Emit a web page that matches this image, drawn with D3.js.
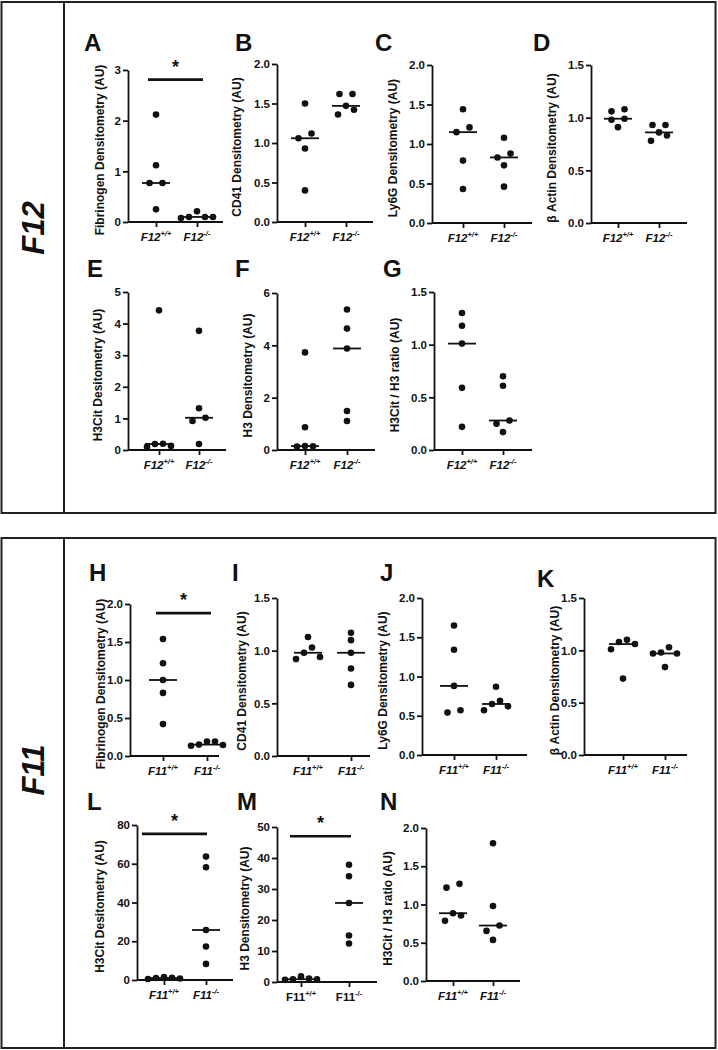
<!DOCTYPE html>
<html>
<head>
<meta charset="utf-8">
<script src="https://cdn.jsdelivr.net/npm/d3@7"></script>
<style>
  body { margin: 0; background: #fff; }
  svg { font-family: "Liberation Sans", Arial, sans-serif; }
</style>
</head>
<body>
<svg id="chart" width="718" height="1050"></svg>
<script>
// categories
const groupsF12 = ["F12+/+", "F12-/-"];
const groupsF11 = ["F11+/+", "F11-/-"];

// values per group
const fibrinogenF12 = [[2.12, 1.12, 0.77, 0.77, 0.25], [0.21, 0.10, 0.10, 0.10, 0.08]];
const cd41F12 = [[1.50, 1.12, 1.06, 0.93, 0.40], [1.62, 1.62, 1.47, 1.42, 1.36]];
const ly6gF12 = [[1.44, 1.21, 1.15, 0.79, 0.43], [1.08, 0.88, 0.83, 0.73, 0.46]];
const actinF12 = [[1.08, 1.06, 0.99, 0.98, 0.91], [0.93, 0.93, 0.86, 0.83, 0.78]];
const h3citF12 = [[4.42, 0.20, 0.19, 0.13, 0.10], [3.77, 1.32, 1.02, 0.92, 0.19]];
const h3F12 = [[3.73, 0.87, 0.15, 0.14, 0.13], [5.37, 4.64, 3.88, 1.49, 1.11]];
const ratioF12 = [[1.30, 1.18, 1.01, 0.59, 0.22], [0.70, 0.61, 0.28, 0.25, 0.17]];

const fibrinogenF11 = [[1.54, 1.22, 1.00, 0.83, 0.42], [0.19, 0.19, 0.15, 0.145, 0.135]];
const cd41F11 = [[1.13, 1.03, 0.98, 0.94, 0.92], [1.17, 1.10, 0.98, 0.83, 0.675]];
const ly6gF11 = [[1.65, 1.34, 0.88, 0.57, 0.54], [0.87, 0.69, 0.65, 0.62, 0.57]];
const actinF11 = [[1.10, 1.08, 1.06, 1.01, 0.73], [1.03, 0.98, 0.97, 0.97, 0.84]];
const h3citF11 = [[1.5, 1.2, 1.0, 0.8, 0.5], [63.7, 58.2, 25.8, 17.3, 8.3]];
const h3F11 = [[1.8, 1.1, 0.9, 0.9, 0.7], [37.8, 34.1, 25.5, 15.0, 12.4]];
const ratioF11 = [[1.27, 1.22, 0.886, 0.856, 0.786], [1.80, 0.98, 0.725, 0.655, 0.537]];

// y tick labels
const ticks3 = [0, 1, 2, 3];
const ticks5 = [0, 1, 2, 3, 4, 5];
const ticks6 = [0, 2, 4, 6];
const ticks15 = [0, 0.5, 1.0, 1.5];
const ticks20 = [0, 0.5, 1.0, 1.5, 2.0];
const ticks80 = [0, 20, 40, 60, 80];
const ticks50 = [0, 10, 20, 30, 40, 50];

// significance bar heights
const sigA = 2.81, sigH = 1.88, sigL = 75.4, sigM = 47;

const panels = [
  { id: "A", groups: groupsF12, vals: fibrinogenF12, ticks: ticks3, title: "Fibrinogen Densitometry (AU)", sig: sigA,
    ax: 128, top: 70, bot: 222, w: 95, t1: 28, t2: 69, tdx: 28, lx: 84, ly: 51, s1: -8, s2: 6 },
  { id: "B", groups: groupsF12, vals: cd41F12, ticks: ticks20, title: "CD41 Densitometry (AU)",
    ax: 277, top: 64, bot: 222, w: 96, t1: 28, t2: 69, tdx: 40, lx: 235, ly: 51 },
  { id: "C", groups: groupsF12, vals: ly6gF12, ticks: ticks20, title: "Ly6G Densitometry (AU)",
    ax: 432, top: 65, bot: 223, w: 100, t1: 31, t2: 72, tdx: 39, lx: 375, ly: 51 },
  { id: "D", groups: groupsF12, vals: actinF12, ticks: ticks15, title: "β Actin Densitometry (AU)",
    ax: 591, top: 65, bot: 223, w: 96, t1: 27, t2: 68, tdx: 39, lx: 533, ly: 51 },
  { id: "E", groups: groupsF12, vals: h3citF12, ticks: ticks5, title: "H3Cit Desitometry (AU)",
    ax: 128, top: 292, bot: 450, w: 98, t1: 31, t2: 71, tdx: 30, lx: 87, ly: 277 },
  { id: "F", groups: groupsF12, vals: h3F12, ticks: ticks6, title: "H3 Densitometry (AU)",
    ax: 277, top: 293, bot: 450, w: 98, t1: 28, t2: 70, tdx: 29, lx: 235, ly: 277 },
  { id: "G", groups: groupsF12, vals: ratioF12, ticks: ticks15, title: "H3Cit / H3 ratio (AU)",
    ax: 434, top: 292, bot: 450, w: 98, t1: 28, t2: 69, tdx: 39, lx: 383, ly: 277 },
  { id: "H", groups: groupsF11, vals: fibrinogenF11, ticks: ticks20, title: "Fibrinogen Densitometry (AU)", sig: sigH,
    ax: 130, top: 604, bot: 756, w: 89, t1: 33, t2: 77, tdx: 29, lx: 89, ly: 581, s1: -7, s2: 4 },
  { id: "I", groups: groupsF11, vals: cd41F11, ticks: ticks15, title: "CD41 Densitometry (AU)",
    ax: 277, top: 598, bot: 756, w: 93, t1: 31, t2: 74, tdx: 35, lx: 232, ly: 581 },
  { id: "J", groups: groupsF11, vals: ly6gF11, ticks: ticks20, title: "Ly6G Densitometry (AU)",
    ax: 422, top: 598, bot: 755, w: 105, t1: 32, t2: 74, tdx: 39, lx: 380, ly: 581 },
  { id: "K", groups: groupsF11, vals: actinF11, ticks: ticks15, title: "β Actin Densitometry (AU)",
    ax: 584, top: 598, bot: 755, w: 103, t1: 39, t2: 81, tdx: 29, lx: 537, ly: 587 },
  { id: "L", groups: groupsF11, vals: h3citF11, ticks: ticks80, title: "H3Cit Desitometry (AU)", sig: sigL,
    ax: 137, top: 825, bot: 980, w: 96, t1: 27, t2: 69, tdx: 37, lx: 87, ly: 810, s1: -22, s2: 1 },
  { id: "M", groups: groupsF11, vals: h3F11, ticks: ticks50, title: "H3 Densitometry (AU)", sig: sigM, plain: true,
    ax: 277, top: 827, bot: 982, w: 100, t1: 24, t2: 72, tdx: 32, lx: 237, ly: 810, s1: -11, s2: 2 },
  { id: "N", groups: groupsF11, vals: ratioF11, ticks: ticks20, title: "H3Cit / H3 ratio (AU)",
    ax: 426, top: 828, bot: 981, w: 94, t1: 27, t2: 67, tdx: 38, lx: 380, ly: 810 }
];

const svg = d3.select("#chart");
const ink = "#111";

// frames
[[2, 511], [538, 510]].forEach(([y0, h]) => {
  svg.append("rect").attr("x", 1.5).attr("y", y0).attr("width", 714).attr("height", h)
    .attr("fill", "none").attr("stroke", "#222").attr("stroke-width", 2);
  svg.append("line").attr("x1", 64).attr("x2", 64).attr("y1", y0).attr("y2", y0 + h)
    .attr("stroke", "#222").attr("stroke-width", 2);
});

// side labels
[["F12", 228], ["F11", 770]].forEach(([t, cy]) => {
  svg.append("text").attr("transform", `translate(44,${cy}) rotate(-90)`)
    .attr("text-anchor", "middle").attr("font-size", 31).attr("font-weight", "bold")
    .attr("font-style", "italic").attr("fill", ink).text(t);
});

// spread overlapping dots in rows, like the scatter plot did
function spread(vals, y) {
  const order = vals.map((v, i) => ({ v, i })).sort((a, b) => b.v - a.v);
  const off = new Array(vals.length).fill(0);
  const clusters = [];
  let cur = [order[0]];
  for (let k = 1; k < order.length; k++) {
    if (y(order[k].v) - y(order[k - 1].v) < 7) cur.push(order[k]);
    else { clusters.push(cur); cur = [order[k]]; }
  }
  clusters.push(cur);
  clusters.forEach(c => {
    const n = c.length;
    const s = n === 2 ? 13 : 8;
    c.forEach((d, j) => {
      let pos;
      if (n % 2) pos = j === 0 ? 0 : Math.ceil(j / 2) * (j % 2 ? 1 : -1);
      else pos = (Math.floor(j / 2) + 0.5) * (j % 2 ? -1 : 1);
      off[d.i] = pos * s;
    });
  });
  return off;
}

panels.forEach(p => {
  const g = svg.append("g");
  const y = d3.scaleLinear().domain([0, d3.max(p.ticks)]).range([p.bot, p.top]);
  const x = d3.scalePoint().domain(p.groups).range([p.ax + p.t1, p.ax + p.t2]);
  const intTicks = p.ticks.every(t => Number.isInteger(t)) && d3.max(p.ticks) > 2;
  const fmt = intTicks ? d3.format("d") : d3.format(".1f");

  // panel letter
  g.append("text").attr("x", p.lx).attr("y", p.ly).attr("font-size", 24)
    .attr("font-weight", "bold").attr("fill", ink).text(p.id);

  // y axis
  const ya = g.append("g").attr("transform", `translate(${p.ax},0)`)
    .call(d3.axisLeft(y).tickValues(p.ticks).tickFormat(fmt).tickSize(5).tickSizeOuter(0).tickPadding(2));
  ya.select(".domain").attr("stroke", ink).attr("stroke-width", 1.8);
  ya.selectAll(".tick line").attr("stroke", ink).attr("stroke-width", 1.8);
  ya.selectAll(".tick text").attr("font-size", 11.5).attr("font-weight", "bold")
    .attr("font-family", "Liberation Sans, Arial, sans-serif").attr("fill", ink);

  // x axis
  g.append("line").attr("x1", p.ax).attr("x2", p.ax + p.w).attr("y1", p.bot).attr("y2", p.bot)
    .attr("stroke", ink).attr("stroke-width", 1.8);
  const xa = g.append("g").attr("transform", `translate(0,${p.bot})`)
    .call(d3.axisBottom(x).tickSize(5).tickFormat(""));
  xa.select(".domain").remove();
  xa.selectAll(".tick line").attr("stroke", ink).attr("stroke-width", 1.8);

  const lab = g.selectAll("text.cat").data(p.groups).join("text").attr("class", "cat")
    .attr("x", d => x(d)).attr("y", p.bot + 19).attr("text-anchor", "middle")
    .attr("font-size", 11.5).attr("font-weight", "bold").attr("fill", ink)
    .attr("font-style", p.plain ? "normal" : "italic");
  lab.append("tspan").text(d => d.slice(0, 3));
  lab.append("tspan").attr("font-size", 7.5).attr("dy", -5).text(d => d.slice(3));

  // axis title
  g.append("text")
    .attr("transform", `translate(${p.ax - p.tdx},${(p.top + p.bot) / 2 + 4}) rotate(-90)`)
    .attr("text-anchor", "middle").attr("dominant-baseline", "central")
    .attr("font-size", 12).attr("font-weight", "bold").attr("fill", ink).text(p.title);

  // dots and medians
  p.groups.forEach((grp, gi) => {
    const vals = p.vals[gi];
    const off = spread(vals, y);
    const cx = x(grp);
    const med = d3.median(vals);
    g.append("line").attr("x1", cx - 14).attr("x2", cx + 14).attr("y1", y(med)).attr("y2", y(med))
      .attr("stroke", ink).attr("stroke-width", 1.8);
    g.selectAll(null).data(vals).join("circle")
      .attr("cx", (d, i) => cx + off[i]).attr("cy", d => y(d)).attr("r", 3.3).attr("fill", ink);
  });

  // significance bar
  if (p.sig !== undefined) {
    const x1 = x(p.groups[0]) + p.s1, x2 = x(p.groups[1]) + p.s2;
    g.append("line").attr("x1", x1).attr("x2", x2).attr("y1", y(p.sig)).attr("y2", y(p.sig))
      .attr("stroke", ink).attr("stroke-width", 2.6);
    g.append("text").attr("x", (x1 + x2) / 2).attr("y", y(p.sig) - 7).attr("text-anchor", "middle")
      .attr("font-size", 18).attr("font-weight", "bold").attr("fill", ink).text("*");
  }
});
</script>
</body>
</html>
